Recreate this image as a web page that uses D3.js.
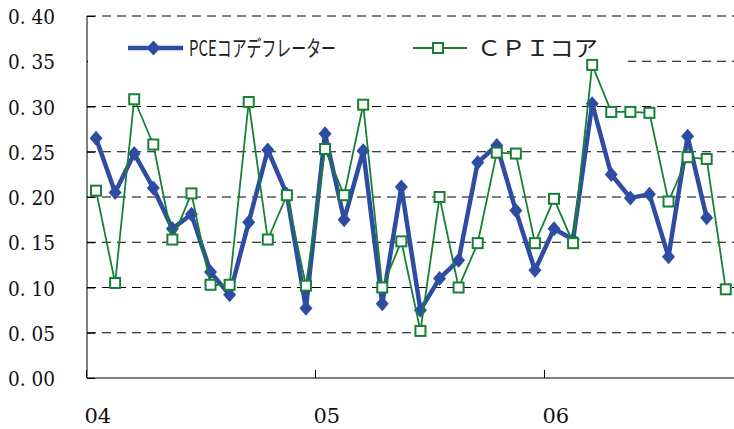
<!DOCTYPE html>
<html><head><meta charset="utf-8">
<script src="https://cdn.jsdelivr.net/npm/d3@7"></script>
<style>html,body{margin:0;padding:0;background:#fff;}svg{display:block;}
.serif{font-family:"DejaVu Serif","Liberation Serif",serif;}
.cjk{font-family:"Noto Sans CJK JP","Noto Sans",sans-serif;}
</style>
</head><body>
<svg id="chart" width="734" height="429"></svg>
<script>
const months = ["2004-01","2004-02","2004-03","2004-04","2004-05","2004-06","2004-07","2004-08","2004-09","2004-10","2004-11","2004-12",
  "2005-01","2005-02","2005-03","2005-04","2005-05","2005-06","2005-07","2005-08","2005-09","2005-10","2005-11","2005-12",
  "2006-01","2006-02","2006-03","2006-04","2006-05","2006-06","2006-07","2006-08","2006-09","2006-10"];
const pceCore = [0.265,0.205,0.248,0.210,0.165,0.181,0.117,0.092,0.172,0.252,0.203,0.077,
  0.270,0.175,0.251,0.082,0.211,0.075,0.110,0.130,0.238,0.257,0.185,0.119,
  0.165,0.153,0.303,0.225,0.199,0.203,0.134,0.267,0.177];
const cpiCore = [0.207,0.105,0.308,0.258,0.153,0.204,0.103,0.103,0.305,0.153,0.202,0.102,
  0.253,0.202,0.302,0.100,0.151,0.052,0.200,0.100,0.149,0.249,0.248,0.149,
  0.198,0.149,0.346,0.294,0.294,0.293,0.195,0.244,0.242,0.098];
const seriesNames = ["PCEコアデフレーター","ＣＰＩコア"];
const yTicks = [0,0.05,0.10,0.15,0.20,0.25,0.30,0.35,0.40];
const yTickLabels = ["0. 00","0. 05","0. 10","0. 15","0. 20","0. 25","0. 30","0. 35","0. 40"];
const yearStarts = ["2004-01","2005-01","2006-01"];
const yearLabels = ["04","05","06"];

(function () {
const svg = d3.select("#chart");
const pl = 86.5, pr = 735.3, pt = 16, pb = 378;
const x = d3.scaleBand().domain(months).range([pl, pr]).padding(0);
const cx = m => x(m) + x.bandwidth() / 2;
const y = d3.scaleLinear().domain([0, 0.4]).range([pb, pt]);
const blue = "#2f4ca3", green = "#178036";

// gridlines
svg.append("g").selectAll("line").data(yTicks.filter(d => d > 0)).join("line")
  .attr("x1", 87).attr("x2", 734).attr("y1", d => y(d)).attr("y2", d => y(d))
  .attr("stroke", "#000").attr("stroke-width", 1).attr("stroke-dasharray", "9,6");

// y axis
const yAxis = d3.axisRight(y).tickValues(yTicks).tickSize(8).tickFormat("");
const ya = svg.append("g").attr("transform", "translate(87,0)").call(yAxis);
ya.select(".domain").attr("stroke", "#000").attr("d", `M0,${pt}V${pb}`);
ya.selectAll(".tick line").attr("stroke", "#000");
svg.append("g").selectAll("text").data(yTicks).join("text")
  .attr("class", "serif")
  .attr("x", 55).attr("y", d => y(d) + 8)
  .attr("text-anchor", "end")
  .attr("font-size", 21).attr("fill", "#111")
  .attr("textLength", 47).attr("lengthAdjust", "spacingAndGlyphs")
  .text((d, i) => yTickLabels[i]);

// x axis
svg.append("line").attr("x1", 87).attr("x2", 734).attr("y1", pb).attr("y2", pb)
  .attr("stroke", "#000").attr("stroke-width", 1.2);
svg.append("g").selectAll("line").data(yearStarts).join("line")
  .attr("x1", d => x(d)).attr("x2", d => x(d)).attr("y1", pb).attr("y2", pb - 8)
  .attr("stroke", "#000");
svg.append("g").selectAll("text").data(yearStarts).join("text")
  .attr("class", "serif")
  .attr("x", d => x(d) - 2).attr("y", 422.5)
  .attr("font-size", 21).attr("fill", "#111")
  .text((d, i) => yearLabels[i]);

// legend background
svg.append("rect").attr("x", 88).attr("y", 26).attr("width", 540).attr("height", 50).attr("fill", "#fff");

const pceData = pceCore.map((v, i) => ({m: months[i], v}));
const cpiData = cpiCore.map((v, i) => ({m: months[i], v}));
const line = d3.line().x(d => cx(d.m)).y(d => y(d.v));
const diamond = (px, py, w, h) => `M${px},${py - h}L${px + w},${py}L${px},${py + h}L${px - w},${py}Z`;

svg.append("path").datum(pceData).attr("d", line).attr("fill", "none")
  .attr("stroke", blue).attr("stroke-width", 4.5).attr("stroke-linejoin", "miter");
svg.append("g").selectAll("path").data(pceData).join("path")
  .attr("d", d => diamond(cx(d.m), y(d.v), 6.5, 7.5)).attr("fill", blue);

svg.append("path").datum(cpiData).attr("d", line).attr("fill", "none")
  .attr("stroke", green).attr("stroke-width", 1.8);
svg.append("g").selectAll("rect").data(cpiData).join("rect")
  .attr("x", d => cx(d.m) - 5).attr("y", d => y(d.v) - 5)
  .attr("width", 10).attr("height", 10)
  .attr("fill", "#fff").attr("stroke", green).attr("stroke-width", 2);

// legend
const lg = svg.append("g");
lg.append("line").attr("x1", 128).attr("x2", 183).attr("y1", 48).attr("y2", 48)
  .attr("stroke", blue).attr("stroke-width", 4.5);
lg.append("path").attr("d", diamond(153.5, 48, 7, 7.5)).attr("fill", blue);
lg.append("text").attr("class", "cjk").attr("x", 189).attr("y", 56)
  .attr("font-size", 22)
  .attr("textLength", 147).attr("lengthAdjust", "spacingAndGlyphs").attr("fill", "#222")
  .text(seriesNames[0]);
lg.append("line").attr("x1", 413).attr("x2", 467).attr("y1", 48).attr("y2", 48)
  .attr("stroke", green).attr("stroke-width", 1.8);
lg.append("rect").attr("x", 433).attr("y", 43).attr("width", 10).attr("height", 10)
  .attr("fill", "#fff").attr("stroke", green).attr("stroke-width", 2);
lg.append("text").attr("class", "cjk").attr("x", 477).attr("y", 56)
  .attr("font-size", 22)
  .attr("textLength", 121).attr("lengthAdjust", "spacingAndGlyphs").attr("fill", "#222")
  .text(seriesNames[1]);
})();
</script>
</body></html>
